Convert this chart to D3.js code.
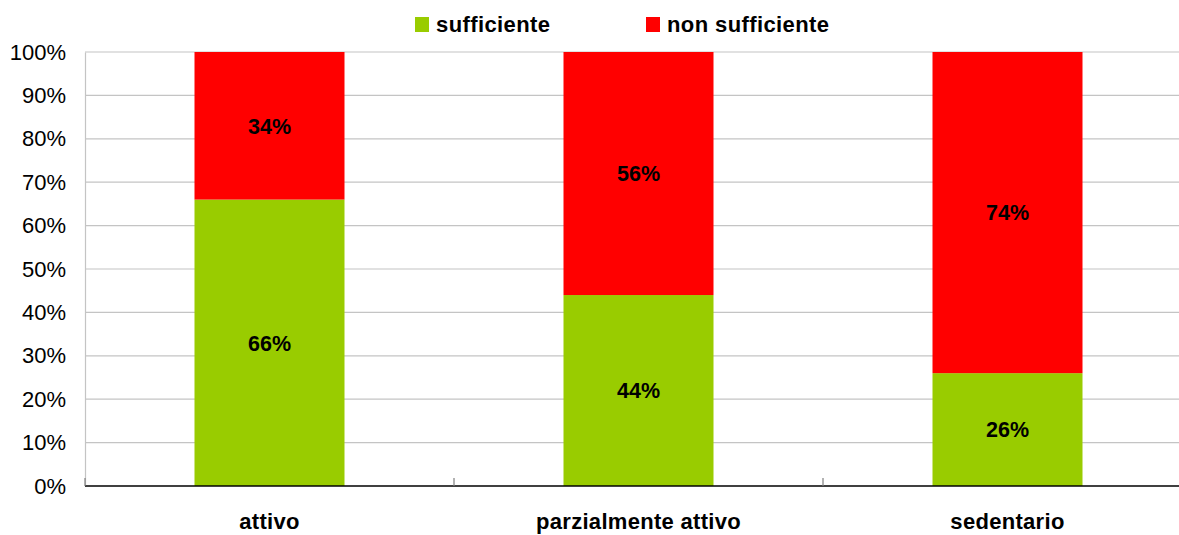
<!DOCTYPE html>
<html>
<head>
<meta charset="utf-8">
<script src="https://cdn.jsdelivr.net/npm/d3@7"></script>
<style>
  html, body { margin: 0; padding: 0; background: #fff; }
  svg { display: block; font-family: "Liberation Sans", Arial, sans-serif; }
</style>
</head>
<body>
<svg id="chart" width="1179" height="535"></svg>
<script>
// Activity level categories and share of each outcome (percent)
const categories = ["attivo", "parzialmente attivo", "sedentario"];
const sufficiente = [66, 44, 26];
const nonSufficiente = [34, 56, 74];
const seriesNames = ["sufficiente", "non sufficiente"];
const seriesColors = ["#99CC00", "#FF0000"];
const yTicks = [0, 10, 20, 30, 40, 50, 60, 70, 80, 90, 100];

const svg = d3.select("#chart");

const x = d3.scaleBand().domain(categories).range([85, 1192]).padding(0);
const y = d3.scaleLinear().domain([0, 100]).range([486, 52]);
const barW = x.bandwidth() * 0.4065;

// Gridlines
svg.append("g")
  .selectAll("line")
  .data(yTicks.filter(d => d > 0))
  .join("line")
  .attr("x1", 85).attr("x2", 1192)
  .attr("y1", d => y(d)).attr("y2", d => y(d))
  .attr("stroke", "#c4c4c4").attr("stroke-width", 1.2);

// Y axis
const yAxis = d3.axisLeft(y).tickValues(yTicks).tickFormat(d => d + "%").tickSize(0).tickPadding(19);
const ya = svg.append("g").attr("transform", "translate(85,0)").call(yAxis);
ya.select(".domain").attr("stroke", "#c4c4c4").attr("stroke-width", 1.2);
ya.selectAll("text").attr("font-size", 22).attr("fill", "#000")
  .attr("font-family", "Liberation Sans, Arial, sans-serif");

// Stacked bars
const stackData = categories.map((c, i) => ({ cat: c, suff: sufficiente[i], non: nonSufficiente[i] }));
const stack = d3.stack().keys(["suff", "non"]);
const layers = stack(stackData);

const gBars = svg.append("g");
layers.forEach((layer, li) => {
  gBars.append("g")
    .selectAll("rect")
    .data(layer)
    .join("rect")
    .attr("x", d => x(d.data.cat) + (x.bandwidth() - barW) / 2)
    .attr("width", barW)
    .attr("y", d => y(d[1]))
    .attr("height", d => y(d[0]) - y(d[1]))
    .attr("fill", seriesColors[li]);

  gBars.append("g")
    .selectAll("text")
    .data(layer)
    .join("text")
    .attr("x", d => x(d.data.cat) + x.bandwidth() / 2)
    .attr("y", d => (y(d[0]) + y(d[1])) / 2)
    .attr("dy", "0.36em")
    .attr("text-anchor", "middle")
    .attr("font-size", 21.5)
    .attr("font-weight", "bold")
    .attr("fill", "#000")
    .text(d => (d[1] - d[0]) + "%");
});

// X axis baseline with category separators
const xa = svg.append("g");
xa.append("line").attr("x1", 85).attr("x2", 1192).attr("y1", 486).attr("y2", 486)
  .attr("stroke", "#000").attr("stroke-width", 1.3);
const bounds = [85].concat(categories.map(c => x(c) + x.bandwidth()));
xa.selectAll("line.sep")
  .data(bounds)
  .join("line").attr("class", "sep")
  .attr("x1", d => d).attr("x2", d => d)
  .attr("y1", 478).attr("y2", 486)
  .attr("stroke", "#808080").attr("stroke-width", 1.2);
xa.selectAll("text")
  .data(categories)
  .join("text")
  .attr("x", d => x(d) + x.bandwidth() / 2)
  .attr("y", 529)
  .attr("text-anchor", "middle")
  .attr("font-size", 22)
  .attr("font-weight", "bold")
  .attr("letter-spacing", 0.3)
  .attr("fill", "#000")
  .text(d => d);

// Legend
const legendX = [415, 646];
const lg = svg.append("g");
seriesNames.forEach((name, i) => {
  lg.append("rect").attr("x", legendX[i]).attr("y", 17).attr("width", 14).attr("height", 15)
    .attr("fill", seriesColors[i]);
  lg.append("text").attr("x", legendX[i] + 21).attr("y", 32)
    .attr("font-size", 22).attr("font-weight", "bold").attr("fill", "#000")
    .attr("letter-spacing", 0.4)
    .text(name);
});
</script>
</body>
</html>
